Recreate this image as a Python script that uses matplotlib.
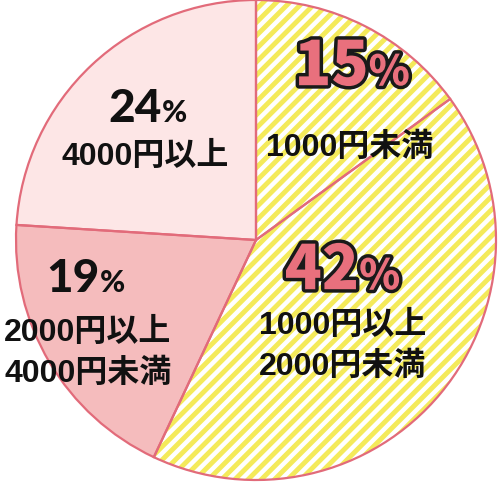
import numpy as np
import matplotlib
matplotlib.use("Agg")
import matplotlib.pyplot as plt
from matplotlib.collections import LineCollection
from matplotlib.offsetbox import TextArea, HPacker, AnnotationBbox
import matplotlib.patheffects as pe

plt.rcParams['font.family'] = ['Noto Sans CJK JP', 'DejaVu Sans']

# ---- data ----
categories = ["1000円未満", "1000円以上\n2000円未満", "2000円以上\n4000円未満", "4000円以上"]
values = [15, 42, 19, 24]
pct_labels = ["15", "42", "19", "24"]

# ---- style ----
face_colors = ["#ffffff", "#ffffff", "#f5bcbd", "#fde6e6"]
striped = [True, True, False, False]
edge_color = "#e26b7a"
stripe_color = "#f4ea5a"
pct_colors = ["#e9707d", "#e9707d", "#111111", "#111111"]
pct_outline = [True, True, False, False]
pct_sizes = [44, 44, 33, 33]
pct_sign_sizes = [30, 30, 22, 22]
pct_family = [['Noto Sans CJK JP', 'DejaVu Sans'], ['Noto Sans CJK JP', 'DejaVu Sans'],
              ['Lato', 'DejaVu Sans'], ['Lato', 'DejaVu Sans']]
# label layout positions (data units, pie radius = 1)
pct_pos = [(0.40, 0.72), (0.36, -0.13), (-0.71, -0.16), (-0.45, 0.55)]
cat_pos = [(0.39, 0.39), (0.36, -0.44), (-0.70, -0.47), (-0.46, 0.35)]
cat_family = ['Liberation Sans', 'Noto Sans CJK JP', 'DejaVu Sans']

W, H = 500, 485
fig = plt.figure(figsize=(W / 100, H / 100), dpi=100)
cx, cy, R = 256, 241, 240
ax = fig.add_axes([(cx - R) / W, (H - cy - R) / H, 2 * R / W, 2 * R / H])


def fix_axes():
    ax.set_xlim(-1, 1)
    ax.set_ylim(-1, 1)
    ax.set_aspect('auto')
    ax.axis("off")


wedges, _ = ax.pie(values, startangle=90, counterclock=False, radius=1,
                   colors=face_colors, center=(0, 0), frame=True,
                   wedgeprops=dict(linewidth=0))
fix_axes()

# stripes (decorative pattern)
slope = np.tan(np.radians(45))
cs = np.arange(-3, 3, 0.055)
segs = [[(-2, -2 * slope + c), (2, 2 * slope + c)] for c in cs]
for w, s in zip(wedges, striped):
    if s:
        lc = LineCollection(segs, colors=stripe_color, linewidths=3.5, zorder=2)
        lc.set_clip_path(w)
        ax.add_collection(lc)

# edges on top
ax.pie(values, startangle=90, counterclock=False, radius=1, center=(0, 0), frame=True,
       wedgeprops=dict(facecolor="none", edgecolor=edge_color, linewidth=1.6, zorder=3))
fix_axes()

# labels
for i in range(len(values)):
    props = dict(color=pct_colors[i], fontweight='black', fontsize=pct_sizes[i],
                 family=pct_family[i])
    props2 = dict(color=pct_colors[i], fontweight='black', fontsize=pct_sign_sizes[i],
                  family=pct_family[i])
    if pct_outline[i]:
        eff = [pe.withStroke(linewidth=5, foreground="#1a1a1a")]
        props['path_effects'] = eff
        props2['path_effects'] = eff
    t1 = TextArea(pct_labels[i], textprops=props)
    t2 = TextArea("%", textprops=props2)
    box = HPacker(children=[t1, t2], align="baseline", pad=0, sep=0)
    ab = AnnotationBbox(box, pct_pos[i], xycoords='data', frameon=False,
                        box_alignment=(0.5, 0.5), zorder=5)
    ax.add_artist(ab)
    ax.text(cat_pos[i][0], cat_pos[i][1], categories[i], ha='center', va='center',
            fontsize=23, fontweight='bold', color='#111111', linespacing=1.45,
            family=cat_family, zorder=5)

fig.savefig("out.png", dpi=100)
